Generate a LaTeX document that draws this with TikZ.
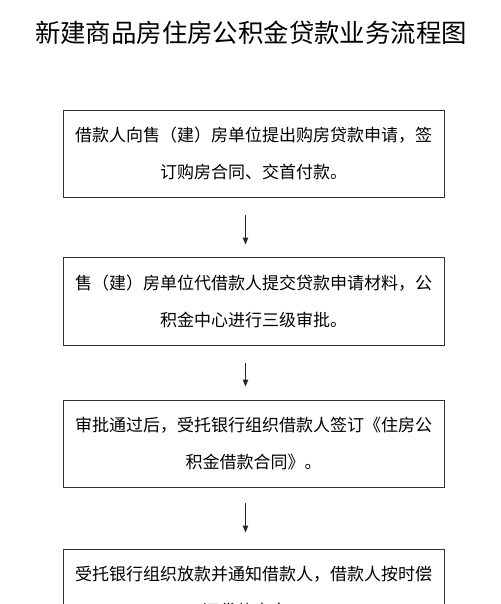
\documentclass[tikz,border=0pt]{standalone}
\usepackage{fontspec}
\newfontfamily\cjk{Noto Sans CJK SC}
\usetikzlibrary{arrows.meta}
\begin{document}
\begin{tikzpicture}[x=1pt,y=-1pt,
  stepbox/.style={draw=black!80, line width=0.9pt, minimum width=381pt, inner sep=0pt,
    align=center, font=\cjk\fontsize{17}{37}\selectfont, text=black},
  arr/.style={draw=black!85, line width=0.9pt, -{Triangle[length=7pt,width=5.5pt]}}]
\clip (0,0) rectangle (500,604);
\fill[white] (0,0) rectangle (500,604);
\node[font=\cjk\fontsize{25.4}{30}\selectfont, inner sep=0pt] (title) at (251,33) {新建商品房住房公积金贷款业务流程图};
\node[stepbox, minimum height=87pt] (b1) at (253.5,153.5) {借款人向售（建）房单位提出购房贷款申请，签\\订购房合同、交首付款。};
\node[stepbox, minimum height=88pt] (b2) at (253.5,301) {售（建）房单位代借款人提交贷款申请材料，公\\积金中心进行三级审批。};
\node[stepbox, minimum height=87pt] (b3) at (253.5,443.5) {审批通过后，受托银行组织借款人签订《住房公\\积金借款合同》。};
\node[stepbox, minimum height=87pt] (b4) at (253.5,592.5) {受托银行组织放款并通知借款人，借款人按时偿\\还贷款本息。};
\draw[arr, shorten <=18pt, shorten >=12pt] ([xshift=-8pt]b1.south) -- ([xshift=-8pt]b2.north);
\draw[arr, shorten <=18pt, shorten >=13pt] ([xshift=-8pt]b2.south) -- ([xshift=-8pt]b3.north);
\draw[arr, shorten <=16pt, shorten >=16pt] ([xshift=-8pt]b3.south) -- ([xshift=-8pt]b4.north);
\end{tikzpicture}
\end{document}
